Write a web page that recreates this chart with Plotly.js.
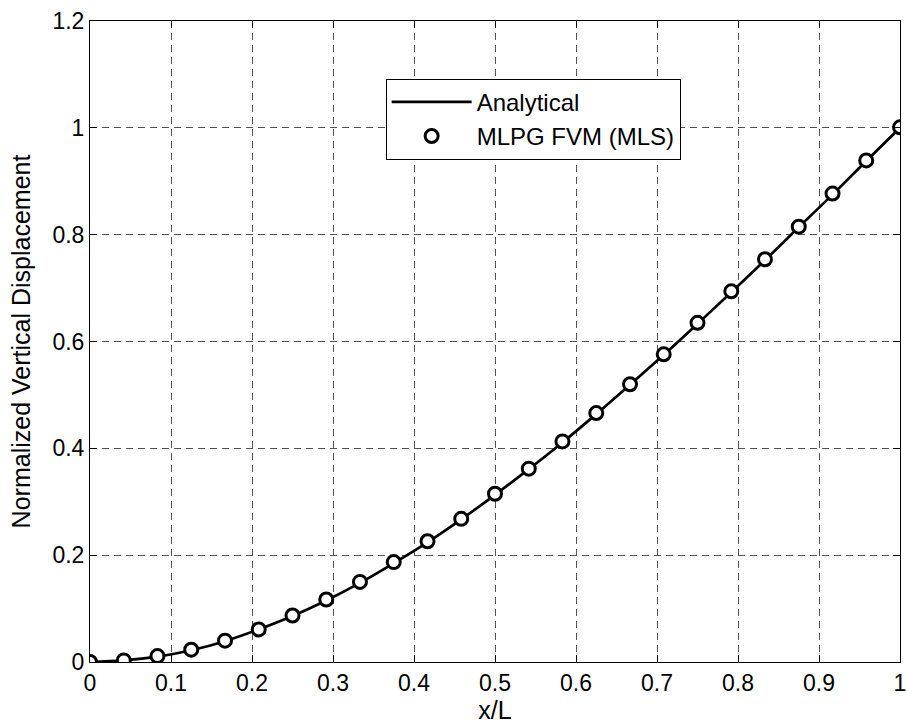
<!DOCTYPE html>
<html>
<head>
<meta charset="utf-8">
<script src="https://cdn.plot.ly/plotly-3.0.1.min.js"></script>
<style>html,body{margin:0;padding:0;background:#fff;}#chart{width:907px;height:727px;}</style>
</head>
<body>
<div id="chart"></div>
<script>
// x/L positions of the nodes
var xNodes = [0, 0.0417, 0.0833, 0.125, 0.1667, 0.2083, 0.25, 0.2917, 0.3333, 0.375,
  0.4167, 0.4583, 0.5, 0.5417, 0.5833, 0.625, 0.6667, 0.7083, 0.75, 0.7917,
  0.8333, 0.875, 0.9167, 0.9583, 1];
// Analytical normalized vertical displacement
var yAnalytical = [0, 0.003, 0.010, 0.022, 0.039, 0.061, 0.086, 0.115, 0.148, 0.185,
  0.224, 0.267, 0.313, 0.361, 0.411, 0.464, 0.519, 0.575, 0.633, 0.692,
  0.752, 0.814, 0.875, 0.938, 1.0];
// MLPG FVM (MLS) results
var yMLPG = [0, 0.003, 0.011, 0.023, 0.040, 0.061, 0.087, 0.117, 0.150, 0.187,
  0.226, 0.268, 0.315, 0.362, 0.413, 0.466, 0.520, 0.576, 0.635, 0.694,
  0.754, 0.815, 0.877, 0.939, 1.001];
var seriesNames = ['Analytical', 'MLPG FVM (MLS)'];
var xTitle = 'x/L';
var yTitle = 'Normalized Vertical Displacement';

var FONT = 'Liberation Sans, Arial, sans-serif';

var traces = [
  {
    x: xNodes, y: yAnalytical, name: seriesNames[0],
    type: 'scatter', mode: 'lines', line: {color: '#000', width: 2.7, shape: 'spline'}
  },
  {
    x: xNodes, y: yMLPG, name: seriesNames[1],
    type: 'scatter', mode: 'markers',
    marker: {symbol: 'circle', size: 13, color: '#fff', line: {color: '#000', width: 3}}
  }
];

var axisCommon = {
  showline: true, linecolor: '#000', linewidth: 1, mirror: 'ticks',
  ticks: 'inside', ticklen: 7, tickcolor: '#000', tickwidth: 1,
  showgrid: true, gridcolor: '#555', gridwidth: 1, griddash: '7px,5px',
  zeroline: false, automargin: false, ticklabeloverflow: 'allow',
  tickfont: {family: FONT, size: 23, color: '#000'}
};

var layout = {
  width: 907, height: 727,
  margin: {l: 90, r: 7, t: 21, b: 65},
  paper_bgcolor: '#fff', plot_bgcolor: '#fff',
  showlegend: true,
  xaxis: Object.assign({}, axisCommon, {
    range: [0, 1], dtick: 0.1, tick0: 0,
    title: {text: xTitle, font: {family: FONT, size: 25, color: '#000'}, standoff: 2}
  }),
  yaxis: Object.assign({}, axisCommon, {
    range: [0, 1.2], dtick: 0.2, tick0: 0,
    title: {text: yTitle, font: {family: FONT, size: 25, color: '#000'}}
  }),
  legend: {
    x: 0.365, y: 0.91, xanchor: 'left', yanchor: 'top',
    bgcolor: '#fff', bordercolor: '#000', borderwidth: 1,
    font: {family: FONT, size: 24, color: '#000'},
    itemwidth: 80, tracegroupgap: 0
  }
};

Plotly.newPlot('chart', traces, layout, {displayModeBar: false, staticPlot: true});
</script>
</body>
</html>
